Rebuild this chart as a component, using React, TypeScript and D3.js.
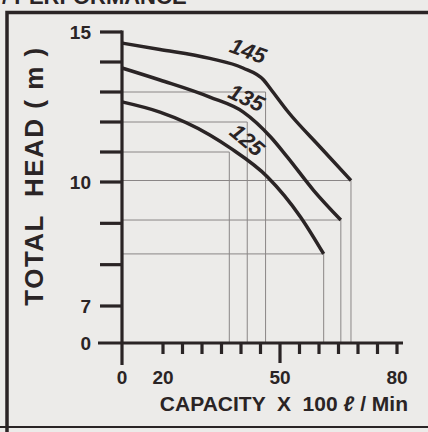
import React from 'react';
import * as d3 from 'd3';

// pump curves: capacity (x100 l/min) vs total head (m)
const curveNames = ['145', '135', '125'];
const capacity145 = [0, 18.5, 32, 40.5, 45.8, 47.6, 52, 60.4, 68.2];
const head145 = [14.63, 14.42, 14.12, 13.8, 13.4, 13.1, 12.35, 11.15, 10.05];
const capacity135 = [0, 18.5, 32, 40.6, 47.6, 51.9, 58.6, 65.6];
const head135 = [13.8, 13.4, 12.83, 12.33, 11.5, 10.83, 9.8, 9.08];
const capacity125 = [0, 18.5, 32, 37.3, 46.8, 55.3, 61.2];
const head125 = [12.67, 12.33, 11.57, 11.13, 10.17, 9.15, 8.26];

// rated points marked with guide lines
const ratedCapacity = [46.3, 41.6, 37.0];
const ratedHead = [13, 12, 11];

const yTicks = [15, 14, 13, 12, 11, 10, 9, 8, 7];
const yTickLabels = [15, 10, 7, 0];
const xTicks = [20, 25, 30, 35, 40, 45, 50, 55, 60, 65, 70, 75, 80];
const xTickLabels = [0, 20, 50, 80];

const W = 428;
const H = 432;
const ink = '#2a2425';
const grid = '#8a8686';

export default function App() {
  // broken axes -> piecewise scales
  const x = d3.scaleLinear().domain([0, 20, 80]).range([122, 163, 397]);
  const y = d3.scaleLinear().domain([0, 7, 10, 15]).range([343, 306, 182, 32]);

  const series = [
    capacity145.map((c, i) => [c, head145[i]]),
    capacity135.map((c, i) => [c, head135[i]]),
    capacity125.map((c, i) => [c, head125[i]]),
  ];

  const curve = d3
    .line<number[]>()
    .x(d => x(d[0]))
    .y(d => y(d[1]))
    .curve(d3.curveMonotoneX);

  // label placement along each curve
  const labelPos = [
    { c: 41.8, dy: -20, rot: 20 },
    { c: 41.4, dy: -17, rot: 25 },
    { c: 41.6, dy: -21, rot: 40 },
  ];
  const interp = (s: number[][], c: number) => {
    for (let i = 1; i < s.length; i++) {
      if (c <= s[i][0]) {
        const t = (c - s[i - 1][0]) / (s[i][0] - s[i - 1][0]);
        return s[i - 1][1] + t * (s[i][1] - s[i - 1][1]);
      }
    }
    return s[s.length - 1][1];
  };

  const x0 = x(0);
  const yBase = y(0);

  return (
    <svg
      width={W}
      height={H}
      viewBox={`0 0 ${W} ${H}`}
      style={{ position: 'absolute', left: 0, top: 0, background: '#ecebe9' }}
      fontFamily="'Liberation Sans', Arial, sans-serif"
    >
      <rect x={0} y={0} width={W} height={H} fill="#ecebe9" />
      <text x={2} y={4} fontSize={22} fontWeight="bold" fill={ink}>
        / PERFORMANCE
      </text>
      {/* frame */}
      <path d={`M7,${H + 5} V12.5 H${W + 5}`} fill="none" stroke={ink} strokeWidth={3.5} />
      <line x1={0} x2={W} y1={427} y2={427} stroke={ink} strokeWidth={2} />

      {/* guide lines */}
      <g stroke={grid} strokeWidth={1} fill="none">
        {ratedCapacity.map((c, i) => (
          <path key={'r' + i} d={`M${x0},${y(ratedHead[i])} H${x(c)} V${yBase}`} />
        ))}
        {series.map((s, i) => {
          const last = s[s.length - 1];
          return <path key={'e' + i} d={`M${x0},${y(last[1])} H${x(last[0])} V${yBase}`} />;
        })}
      </g>

      {/* curves */}
      {series.map((s, i) => (
        <path key={i} d={curve(s) || ''} fill="none" stroke={ink} strokeWidth={3.5} strokeLinejoin="round" />
      ))}
      {series.map((s, i) => {
        const p = labelPos[i];
        const lx = x(p.c);
        const ly = y(interp(s, p.c)) + p.dy;
        return (
          <text
            key={'l' + i}
            x={lx}
            y={ly}
            transform={`rotate(${p.rot},${lx},${ly})`}
            fontSize={22}
            fontWeight="bold"
            fontStyle="italic"
            fill={ink}
            textAnchor="middle"
            dominantBaseline="central"
          >
            {curveNames[i]}
          </text>
        );
      })}

      {/* axes */}
      <g stroke={ink} strokeWidth={3.2}>
        <line x1={x0} x2={x0} y1={y(15) - 1.5} y2={365} />
        <line x1={98} x2={403} y1={yBase} y2={yBase} />
        {yTicks.map(t => (
          <line key={'yt' + t} x1={100} x2={x0} y1={y(t)} y2={y(t)} />
        ))}
        {xTicks.map(t => (
          <line key={'xt' + t} x1={x(t)} x2={x(t)} y1={yBase} y2={t === 50 ? 363 : 354} />
        ))}
      </g>
      <g fontSize={19} fontWeight="bold" fill={ink}>
        {yTickLabels.map(t => (
          <text key={'yl' + t} x={91} y={y(t)} dy="0.36em" textAnchor="end">
            {t}
          </text>
        ))}
        {xTickLabels.map(t => (
          <text key={'xl' + t} x={x(t)} y={384} textAnchor="middle">
            {t}
          </text>
        ))}
      </g>
      <text
        x={408}
        y={411}
        fontSize={21}
        fontWeight="bold"
        fill={ink}
        textAnchor="end"
        style={{ whiteSpace: 'pre' }}
      >
        {'CAPACITY  X  100 '}
        <tspan fontStyle="italic">ℓ</tspan>
        {' / Min'}
      </text>
      <text
        x={43}
        y={176}
        transform="rotate(-90,43,176)"
        fontSize={26}
        fontWeight="bold"
        fill={ink}
        textAnchor="middle"
        letterSpacing={1.5}
        style={{ whiteSpace: 'pre' }}
      >
        {'TOTAL  HEAD ( m )'}
      </text>
    </svg>
  );
}
